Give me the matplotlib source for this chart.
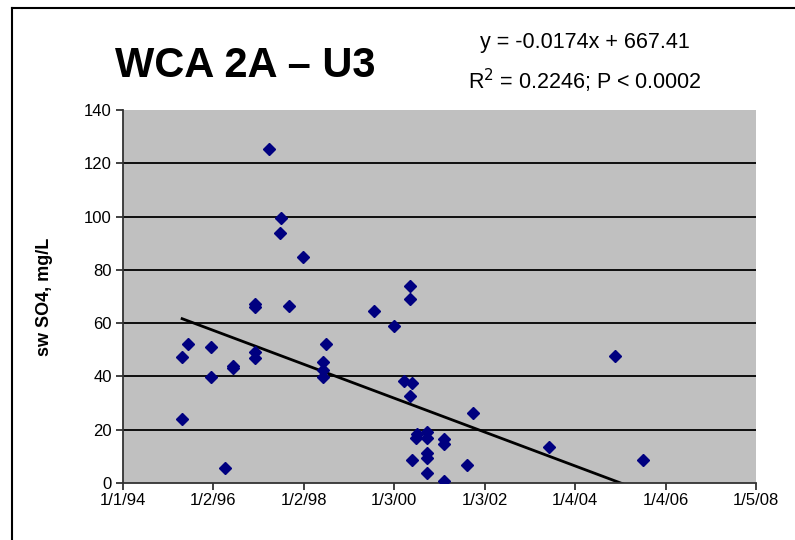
import matplotlib
matplotlib.use("Agg")
import matplotlib.pyplot as plt
from matplotlib.lines import Line2D
import numpy as np

plt.rcParams['font.family'] = ['Liberation Sans', 'DejaVu Sans']

# x values are Excel day serials (as in the original trendline equation)
sample_day = [34813, 34813, 34864, 35045, 35045, 35158, 35223, 35223,
              35404, 35404, 35404, 35404, 35513, 35602, 35616, 35673,
              35794, 35952, 35952, 35952, 35973, 36365, 36529, 36610,
              36653, 36653, 36653, 36673, 36673, 36705, 36713, 36794,
              36794, 36794, 36794, 36794, 36928, 36928, 36928, 37112,
              37161, 37779, 38313, 38537]
so4 = [47.2, 24.1, 52.2, 50.9, 39.9, 5.8, 43.0, 44.0,
       66.0, 67.0, 47.0, 49.0, 125.3, 93.7, 99.6, 66.6,
       85.0, 45.3, 42.5, 39.9, 52.2, 64.6, 59.1, 38.3,
       74.1, 69.1, 32.7, 37.7, 8.5, 17.0, 18.4, 19.3,
       17.0, 11.1, 9.3, 3.9, 16.4, 14.6, 0.75, 6.8,
       26.2, 13.6, 47.8, 8.5]

slope = -0.0174
intercept = 667.41

x_ticks = [34335 + 731 * k for k in range(8)]
x_tick_labels = ['1/1/94', '1/2/96', '1/2/98', '1/3/00', '1/3/02',
                 '1/4/04', '1/4/06', '1/5/08']
y_ticks = [0, 20, 40, 60, 80, 100, 120, 140]

fig = plt.figure(figsize=(7.95, 5.4), dpi=100)
ax = fig.add_axes([0.1547, 0.1056, 0.7963, 0.6907])
ax.set_facecolor('#C0C0C0')

for yv in y_ticks[1:-1]:
    ax.axhline(yv, color='black', lw=1.3, zorder=1)

xs = np.array([min(sample_day), max(sample_day)])
ax.plot(xs, slope * xs + intercept, color='black', lw=2, zorder=2)
ax.plot(sample_day, so4, 'D', color='#000080', ms=6, mec='#000080', zorder=3)

ax.set_xlim(x_ticks[0], x_ticks[-1])
ax.set_ylim(0, 140)
ax.set_xticks(x_ticks)
ax.set_xticklabels(x_tick_labels)
ax.set_yticks(y_ticks)
for s in ['top', 'right']:
    ax.spines[s].set_visible(False)
for s in ['left', 'bottom']:
    ax.spines[s].set_linewidth(1.3)
    ax.spines[s].set_color('#333333')
ax.tick_params(direction='out', length=5, width=1.3, color='#333333',
               labelsize=12)
ax.tick_params(axis='x', pad=2)
ax.tick_params(axis='y', pad=3)
ax.set_ylabel('sw SO4, mg/L', fontsize=13, fontweight='bold', labelpad=22)

fig.text(0.308, 0.878, 'WCA 2A \u2013 U3', fontsize=30, fontweight='bold',
         ha='center', va='center')
fig.text(0.736, 0.922, 'y = -0.0174x + 667.41', fontsize=15.5,
         ha='center', va='center')
fig.text(0.736, 0.850, 'R$^{2}$ = 0.2246; P < 0.0002', fontsize=15.5,
         ha='center', va='center')

# chart area border
fig.add_artist(Line2D([12 / 795, 1.0], [1 - 8 / 540, 1 - 8 / 540],
                      color='black', lw=1.5, transform=fig.transFigure))
fig.add_artist(Line2D([12 / 795, 12 / 795], [0.0, 1 - 8 / 540],
                      color='black', lw=1.5, transform=fig.transFigure))

fig.savefig('out.png', dpi=100)
